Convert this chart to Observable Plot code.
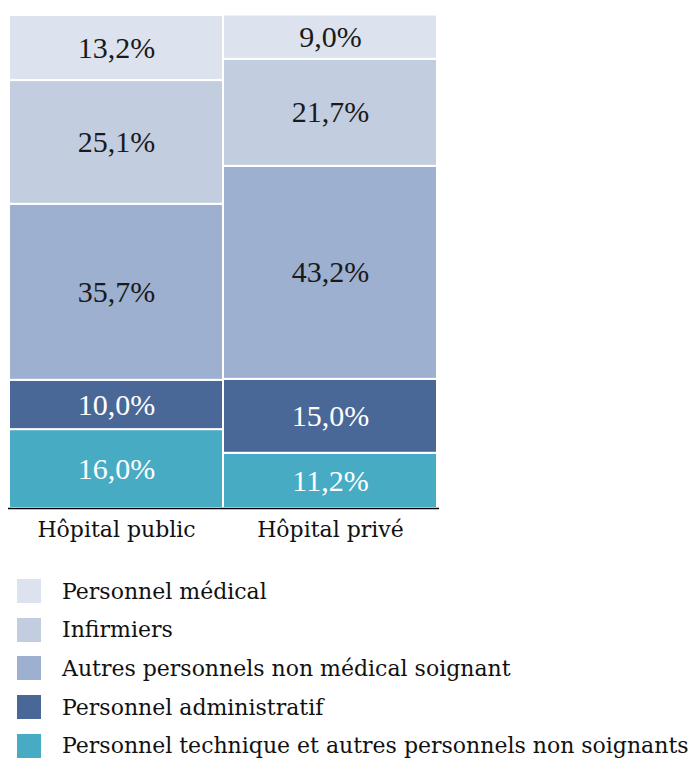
<!DOCTYPE html>
<html><head><meta charset="utf-8">
<script src="https://cdn.jsdelivr.net/npm/d3@7"></script>
<script src="https://cdn.jsdelivr.net/npm/@observablehq/plot@0.6"></script>
<style>
body{margin:0;background:#fff;font-family:"DejaVu Serif",serif;}
#legend{margin-left:17px;margin-top:22px;}
.row{display:flex;align-items:center;height:38.6px;}
.sw{width:24px;height:24px;margin-right:21px;flex:none;}
.lab{font-size:22px;color:#111;white-space:nowrap;}
</style>
</head><body>
<div id="chart"></div>
<div id="legend"></div>
<script>
const hospitals = ["Hôpital public", "Hôpital privé"];
const categories = ["Personnel médical", "Infirmiers", "Autres personnels non médical soignant", "Personnel administratif", "Personnel technique et autres personnels non soignants"];
const publicValues = [13.2, 25.1, 35.7, 10.0, 16.0];
const priveValues = [9.0, 21.7, 43.2, 15.0, 11.2];
const colors = ["#dce3ee", "#c3cde0", "#9db0cf", "#4a6897", "#48abc4"];
const darkCategories = ["Personnel administratif", "Personnel technique et autres personnels non soignants"];

const rows = [];
[publicValues, priveValues].forEach((vals, h) => {
  for (let i = categories.length - 1; i >= 0; i--) {
    rows.push({h: hospitals[h], c: categories[i], v: vals[i]});
  }
});
const fmt = v => v.toFixed(1).replace(".", ",") + "%";
const isDark = d => darkCategories.includes(d.c);

const chart = Plot.plot({
  width: 691, height: 550,
  marginLeft: 8, marginRight: 254, marginTop: 15, marginBottom: 42,
  style: {fontFamily: "Liberation Serif", background: "white"},
  x: {domain: hospitals, padding: 0, label: null, tickSize: 0, tickPadding: 13},
  y: {domain: [0, 100], axis: null},
  color: {domain: categories, range: colors},
  marks: [
    Plot.barY(rows, {x: "h", y: "v", fill: "c", z: "c", stroke: "white", strokeWidth: 2}),
    Plot.text(rows, Plot.stackY({x: "h", y: "v", z: "c", text: d => isDark(d) ? fmt(d.v) : "", fill: "white", fontSize: 30})),
    Plot.text(rows, Plot.stackY({x: "h", y: "v", z: "c", text: d => isDark(d) ? "" : fmt(d.v), fill: "#1a1a1a", fontSize: 30})),
    Plot.ruleY([0], {stroke: "black", strokeWidth: 1.5, insetRight: -2})
  ]
});
chart.querySelectorAll("g[aria-label='x-axis tick label']").forEach(e => {
  e.setAttribute("fill", "#111");
  e.setAttribute("font-size", "22");
  e.setAttribute("font-family", "DejaVu Serif");
});
document.getElementById("chart").appendChild(chart);

const legend = document.getElementById("legend");
categories.forEach((c, i) => {
  const row = document.createElement("div");
  row.className = "row";
  const sw = document.createElement("div");
  sw.className = "sw";
  sw.style.background = colors[i];
  const lab = document.createElement("span");
  lab.className = "lab";
  lab.textContent = c;
  row.appendChild(sw); row.appendChild(lab);
  legend.appendChild(row);
});
</script>
</body></html>
